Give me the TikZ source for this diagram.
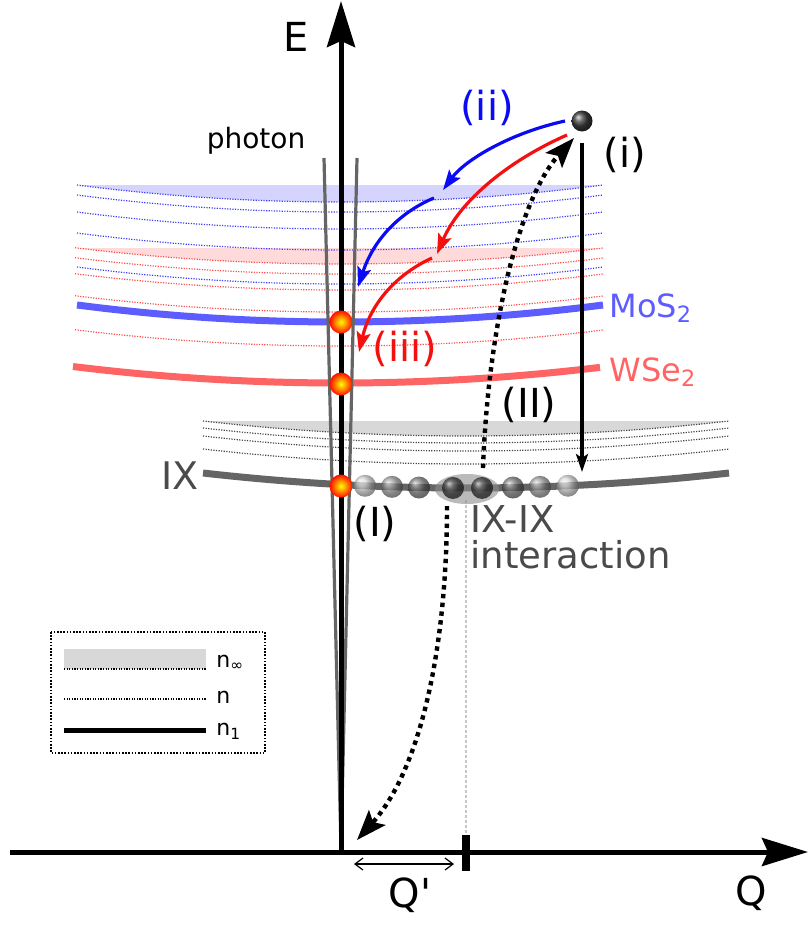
\documentclass[tikz,border=0pt]{standalone}
\usepackage{fontspec}
\setmainfont{DejaVu Sans}
\usepackage{xcolor}
\usepackage{tikz}
\usetikzlibrary{arrows.meta,positioning}
\definecolor{moBlue}{HTML}{5C5CFF}
\definecolor{moDot}{HTML}{3C3CFF}
\definecolor{moFill}{HTML}{D4D4FF}
\definecolor{wsRed}{HTML}{FF6464}
\definecolor{wsDot}{HTML}{FF4C4C}
\definecolor{wsFill}{HTML}{FFDADA}
\definecolor{ixGray}{HTML}{656565}
\definecolor{ixDot}{HTML}{444444}
\definecolor{ixFill}{HTML}{D8D8D8}
\definecolor{ixText}{HTML}{4A4A4A}
\definecolor{arBlue}{HTML}{0A0AF5}
\definecolor{arRed}{HTML}{F51010}

\begin{document}
\begin{tikzpicture}[x=0.5pt, y=-0.5pt, >=Stealth,
  font=\fontsize{20}{24}\selectfont,
  declare function={bnd(\xa,\cc,\dd,\mm)=\cc-\dd*((\xa-\mm)/263)^2;},
  lvl/.style={line width=0.6pt, dash pattern=on 0.6pt off 0.7pt},
  bandln/.style={line width=3.5pt},
  photon/.style={ixGray, line width=1.6pt},
  axis/.style={line width=2.5pt, -{Stealth[length=23pt,width=14pt,inset=3pt]}},
  hop/.style={line width=1.6pt, -{Stealth[length=10pt,width=7pt,inset=2pt]}},
  dots/.style={line width=2.2pt, dash pattern=on 2.2pt off 2.2pt,
    -{Stealth[length=15pt,width=11pt,inset=3pt]}},
  oball/.style={circle, inner sep=0pt, minimum size=11.5pt,
    inner color=yellow, outer color=red!90!orange},
  gball/.style={circle, inner sep=0pt, minimum size=11pt, shading=ball},
  lab/.style={inner sep=0pt}]
\useasboundingbox (0,0) rectangle (809,926);
% --- band fills (n infinity) ---
\fill[moFill] (77,185) -- (603,185) -- plot[domain=603:77,samples=40] (\x,{bnd(\x,202,17,340)}) -- cycle;
\fill[wsFill] (75,248) -- (603,248) -- plot[domain=603:75,samples=40] (\x,{bnd(\x,264,16,340)}) -- cycle;
\fill[ixFill] (203,421) -- (729,421) -- plot[domain=729:203,samples=40] (\x,{bnd(\x,436,15,466)}) -- cycle;
% --- excited levels n ---
\foreach \lv in {202,212,229,250,284}
  \draw[lvl,moDot] plot[domain=77:603,samples=40] (\x,{bnd(\x,\lv,17,340)});
\foreach \lv in {264,274,290,312,346}
  \draw[lvl,wsDot] plot[domain=75:603,samples=40] (\x,{bnd(\x,\lv,16,340)});
\foreach \lv in {436,443,451,464}
  \draw[lvl,ixDot] plot[domain=203:729,samples=40] (\x,{bnd(\x,\lv,15,466)});
% --- n=1 levels ---
\draw[bandln,moBlue] plot[domain=77:603,samples=40] (\x,{bnd(\x,322,17,340)});
\draw[bandln,wsRed] plot[domain=73:600,samples=40] (\x,{bnd(\x,383,16,340)});
\draw[bandln,ixGray] plot[domain=203:729,samples=40] (\x,{bnd(\x,488,15,466)});
% --- light cone ---
\coordinate (pbot) at (341,848);
\coordinate (ptl) at (324,158);
\coordinate (ptr) at (357,158);
\draw[photon] (pbot) -- (ptl);
\draw[photon] (pbot) -- (ptr);
% --- axes ---
\coordinate (orig) at (341,852);
\coordinate (etop) at (341,1);
\coordinate (qleft) at (10,852);
\coordinate (qright) at (808,852);
\coordinate (qv) at (466,500);
\coordinate (tkt) at (466,835);
\coordinate (tkb) at (466,871);
\draw[black!22, line width=1pt, dash pattern=on 1.5pt off 1pt] (qv) -- (tkt);
\draw[axis] (orig) -- (etop);
\draw[axis] (qleft) -- (qright);
\draw[line width=4pt] (tkt) -- (tkb);
\coordinate (qa) at (354,864);
\coordinate (qb) at (454,864);
\draw[line width=0.6pt, {Straight Barb[length=4pt,width=6pt]}-{Straight Barb[length=4pt,width=6pt]}] (qa) -- (qb);
% --- IX gas ---
\fill[black!45, opacity=0.6] (467,489) ellipse [x radius=16pt, y radius=7.5pt];
\foreach \xx/\sh [count=\i] in {365/18,392/45,419/62,453/85,482/85,513/62,540/45,568/18}
  \node[gball, ball color=black!\sh, opacity=0.72] (g\i) at (\xx,{bnd(\xx,488,15,466)}) {};
% --- excitons at Q=0 ---
\node[oball] (xMo) at (341,322) {};
\node[oball] (xWs) at (341,384) {};
\node[oball] (xIX) at (341,486) {};
\node[gball, ball color=black!75, minimum size=10.5pt] (hot) at (582,121) {};
% --- relaxation paths ---
\coordinate (b1s) at (565,121);
\coordinate (b1e) at (443,190);
\coordinate (b2s) at (434,198);
\coordinate (b2e) at (358,287);
\coordinate (r1s) at (567,135);
\coordinate (r1e) at (437,254);
\coordinate (r2s) at (432,258);
\coordinate (r2e) at (359,352);
\draw[hop,arBlue] (b1s) .. controls (510,133) and (465,160) .. (b1e);
\draw[hop,arBlue] (b2s) .. controls (405,210) and (375,235) .. (b2e);
\draw[hop,arRed] (r1s) .. controls (510,160) and (460,200) .. (r1e);
\draw[hop,arRed] (r2s) .. controls (395,275) and (370,305) .. (r2e);
\coordinate (vs) at (582,143);
\coordinate (ve) at (582,472);
\draw[line width=1.6pt, -{Stealth[length=9pt,width=6pt,inset=2pt]}] (vs) -- (ve);
\coordinate (up0) at (483,468);
\coordinate (up1) at (574,138);
\draw[dots] (up0) .. controls (488,330) and (518,200) .. (up1);
\coordinate (dn0) at (447,506);
\coordinate (dn1) at (357,840);
\draw[dots] (dn0) .. controls (447,650) and (420,770) .. (dn1);
% --- labels ---
\node[lab] (Elab) at (296,37) {E};
\node[lab, font=\fontsize{14}{16}\selectfont] (phot) at (256,141) {photon};
\node[lab, arBlue] (lii) at (487,108) {(ii)};
\node[lab] (li) at (625,155) {(i)};
\node[lab, moBlue, font=\fontsize{16}{18}\selectfont, anchor=west] (lmo) at (609,308) {MoS\textsubscript{2}};
\node[lab, wsRed, font=\fontsize{16}{18}\selectfont, anchor=west] (lws) at (609,372) {WSe\textsubscript{2}};
\node[lab, arRed] (liii) at (405,349) {(iii)};
\node[lab] (lII) at (529,405) {(II)};
\node[lab, ixText, font=\fontsize{19}{22}\selectfont] (lix) at (180,476) {IX};
\node[lab] (lI) at (375,524) {(I)};
\node[lab, ixText, align=left, anchor=north west, font=\fontsize{18.5}{18}\selectfont] (lint) at (470,505) {IX-IX\\interaction};
\node[lab] (lqp) at (410,895) {Q\textquotesingle};
\node[lab] (lq) at (751,893) {Q};
% --- legend ---
\draw[line width=0.6pt, dash pattern=on 0.8pt off 0.8pt] (51,632) rectangle (265,753);
\fill[ixFill] (64,649) rectangle (206,669);
\draw[lvl,black] (64,669) -- (206,669);
\draw[lvl,black] (64,699) -- (206,699);
\draw[line width=2.5pt] (64,730) -- (206,730);
\begin{scope}[font=\fontsize{11}{13}\selectfont]
  \node[lab, anchor=west] (kinf) at (216,663) {n\textsubscript{∞}};
  \node[lab, anchor=west] (kn) at (216,697) {n};
  \node[lab, anchor=west] (kone) at (216,731) {n\textsubscript{1}};
\end{scope}
\end{tikzpicture}
\end{document}
